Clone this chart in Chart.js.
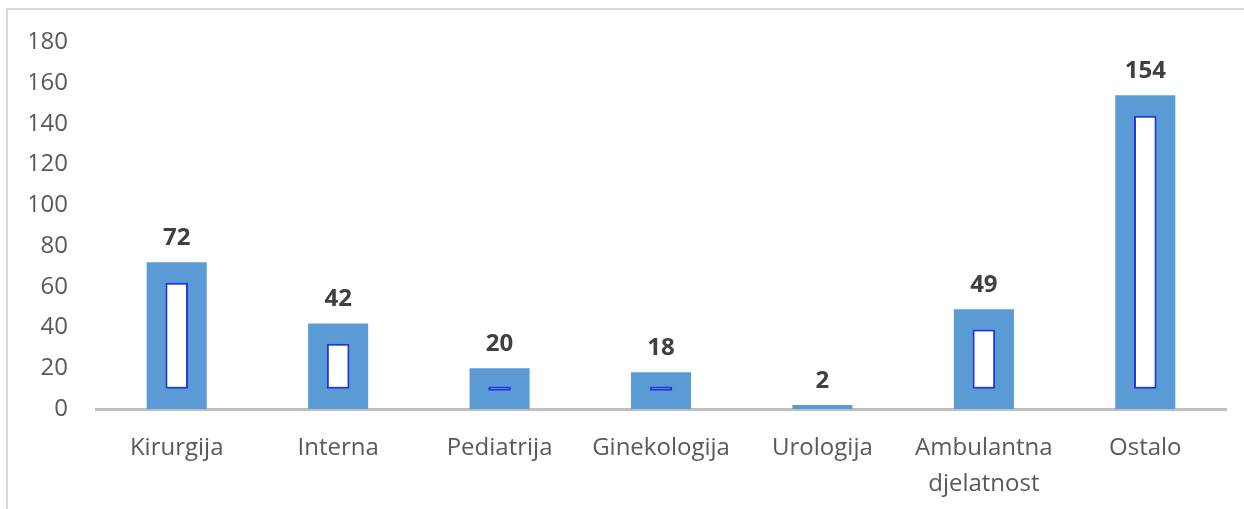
<!DOCTYPE html>
<html>
<head>
<meta charset="utf-8">
<script src="https://cdn.jsdelivr.net/npm/chart.js@4/dist/chart.umd.min.js"></script>
<style>
  html, body { margin: 0; padding: 0; background: #ffffff; }
  #frame { position: absolute; left: 6px; top: 8px; width: 1240px; height: 503px;
           border-left: 2px solid #d9d9d9; border-top: 2px solid #d9d9d9; }
  #c { position: absolute; left: 0; top: 0; }
</style>
</head>
<body>
<div id="frame"></div>
<canvas id="c" width="1244" height="509"></canvas>
<script>
const categories = ['Kirurgija', 'Interna', 'Pediatrija', 'Ginekologija', 'Urologija', ['Ambulantna', 'djelatnost'], 'Ostalo'];
const values = [72, 42, 20, 18, 2, 49, 154];
// inner bevel highlight ranges
const innerBands = [[10, 62], [10, 32], [9, 11], [9, 11], null, [10, 39], [10, 144]];
const yMin = 0, yMax = 180, yStep = 20;

const FONT = "'Open Sans', 'Liberation Sans', sans-serif";

const valueLabels = {
  id: 'valueLabels',
  afterDatasetsDraw(chart) {
    const meta = chart.getDatasetMeta(0);
    const ctx = chart.ctx;
    ctx.save();
    ctx.font = "bold 24px " + FONT;
    ctx.fillStyle = '#404040';
    ctx.textAlign = 'center';
    ctx.textBaseline = 'bottom';
    meta.data.forEach((bar, i) => {
      ctx.fillText(String(values[i]), bar.x, bar.y - 12);
    });
    ctx.restore();
  }
};

new Chart(document.getElementById('c'), {
  type: 'bar',
  data: {
    labels: categories,
    datasets: [
      {
        data: values,
        backgroundColor: '#5b9bd5',
        borderWidth: 0,
        barPercentage: 0.372,
        categoryPercentage: 1,
        grouped: false,
        order: 2
      },
      {
        data: innerBands,
        backgroundColor: '#ffffff',
        borderColor: '#2636d8',
        borderWidth: 2,
        borderSkipped: false,
        barPercentage: 0.14,
        categoryPercentage: 1,
        grouped: false,
        order: 1
      }
    ]
  },
  options: {
    responsive: false,
    devicePixelRatio: 1,
    animation: false,
    layout: { padding: { left: 30, right: 18, top: 28, bottom: 0 } },
    plugins: { legend: { display: false }, tooltip: { enabled: false } },
    scales: {
      x: {
        grid: { display: false, drawTicks: false },
        border: { display: true, color: '#bfbfbf', width: 3 },
        ticks: { color: '#595959', font: { family: FONT, size: 24, lineHeight: 1.5 }, padding: 21, maxRotation: 0, autoSkip: false },
        afterFit(s) { s.height = 100; }
      },
      y: {
        min: yMin, max: yMax,
        grid: { display: false, drawTicks: false },
        border: { display: false },
        ticks: { stepSize: yStep, color: '#595959', font: { family: FONT, size: 24 }, padding: 28 },
        afterFit(s) { s.width = 66; }
      }
    }
  },
  plugins: [valueLabels]
});
</script>
</body>
</html>
